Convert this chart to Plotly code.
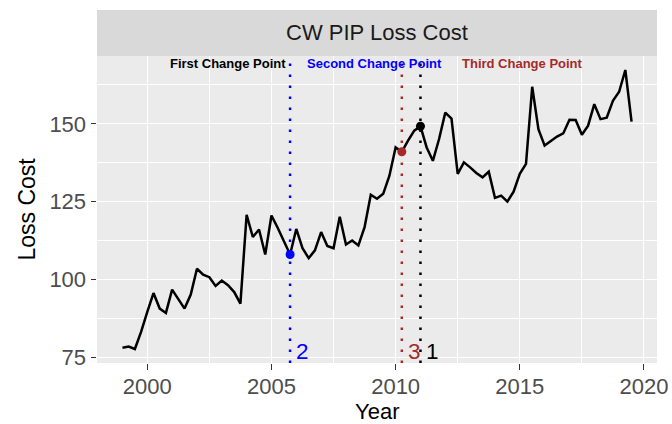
import plotly.graph_objects as go

# Quarterly loss cost, 1999.00 .. 2019.50
start_year = 1999.0
loss_cost = [
    78.0, 78.4, 77.6, 83.1, 89.5, 95.6, 90.6, 89.2, 96.7, 93.7,
    90.6, 95.1, 103.4, 101.5, 100.7, 97.9, 99.6, 98.1, 95.9, 92.2,
    120.7, 113.6, 116.0, 108.0, 120.5, 116.6, 112.5, 108.0, 116.2, 110.0,
    106.8, 109.3, 115.2, 110.7, 110.0, 120.1, 111.2, 112.5, 110.9, 116.8,
    127.2, 125.9, 127.5, 133.3, 142.4, 141.0, 144.6, 147.8, 149.2, 142.4,
    138.1, 145.1, 153.6, 151.7, 133.9, 137.6, 136.0, 134.2, 132.8, 134.6,
    126.2, 126.9, 125.0, 128.2, 133.9, 137.1, 161.9, 148.3, 143.0, 144.6,
    145.9, 146.9, 151.3, 151.2, 146.5, 149.4, 156.3, 151.5, 152.0, 157.4,
    160.3, 167.3, 150.7,
]
years = [start_year + 0.25 * i for i in range(len(loss_cost))]

# Change points: order number, year, colour
cp_numbers = ["1", "2", "3"]
cp_years = [2011.0, 2005.75, 2010.25]
cp_colors = ["black", "blue", "#A52A2A"]
cp_label_x = [2011.47, 2006.26, 2010.77]
cp_titles = ["First Change Point", "Second Change Point", "Third Change Point"]
cp_title_x = [2003.27, 2009.15, 2015.11]

x_ticks = [2000, 2005, 2010, 2015, 2020]
y_ticks = [75, 100, 125, 150]
x_range = [1997.975, 2020.525]
y_range = [73.1, 171.8]

FONT = "Liberation Sans, Arial, sans-serif"

fig = go.Figure()

for yr, col in zip(cp_years, cp_colors):
    fig.add_trace(go.Scatter(
        x=[yr, yr], y=y_range, mode="lines",
        line=dict(color=col, width=2.5, dash="2.5px,8.5px"),
        hoverinfo="skip", showlegend=False,
    ))

fig.add_trace(go.Scatter(
    x=years, y=loss_cost, mode="lines",
    line=dict(color="black", width=2.5),
    showlegend=False,
))

cp_vals = [loss_cost[years.index(y)] for y in cp_years]
fig.add_trace(go.Scatter(
    x=cp_years, y=cp_vals, mode="markers",
    marker=dict(color=cp_colors, size=9),
    showlegend=False,
))

for num, col, lx in zip(cp_numbers, cp_colors, cp_label_x):
    fig.add_annotation(x=lx, y=76.85, text=num, showarrow=False,
                       font=dict(family=FONT, size=22.5, color=col),
                       xanchor="center", yanchor="middle")

for t, col, tx in zip(cp_titles, cp_colors, cp_title_x):
    fig.add_annotation(x=tx, y=169.3, text="<b>" + t + "</b>", showarrow=False,
                       font=dict(family=FONT, size=13, color=col),
                       xanchor="center", yanchor="middle")

W, H = 672, 424
L, R, T, B = 97, 15, 10, 61
plot_h = H - T - B
panel_top_frac = 307 / plot_h

# strip
fig.add_shape(type="rect", xref="paper", yref="paper",
              x0=0, x1=1, y0=panel_top_frac, y1=1,
              fillcolor="#D9D9D9", line=dict(width=0), layer="below")
fig.add_annotation(xref="paper", yref="paper", x=0.5,
                   y=(panel_top_frac + 1) / 2, text="CW PIP Loss Cost",
                   showarrow=False, font=dict(family=FONT, size=22, color="#1A1A1A"),
                   xanchor="center", yanchor="middle")

# axis titles
fig.add_annotation(xref="paper", yref="paper", x=0, y=panel_top_frac / 2,
                   xshift=-70, text="Loss Cost", textangle=-90, showarrow=False,
                   font=dict(family=FONT, size=23, color="black"),
                   xanchor="center", yanchor="middle")
fig.add_annotation(xref="paper", yref="paper", x=0.5, y=0,
                   yshift=-48, text="Year", showarrow=False, borderpad=0,
                   font=dict(family=FONT, size=22, color="black"),
                   xanchor="center", yanchor="middle")

minor_x = [1997.5, 2002.5, 2007.5, 2012.5, 2017.5]
minor_y = [87.5, 112.5, 137.5, 162.5]

fig.update_layout(
    width=W, height=H,
    margin=dict(l=L, r=R, t=T, b=B),
    paper_bgcolor="white", plot_bgcolor="#EBEBEB",
    font=dict(family=FONT),
    xaxis=dict(
        range=x_range, tickvals=x_ticks, ticktext=[str(v) for v in x_ticks],
        showgrid=True, gridcolor="white", gridwidth=1.4,
        minor=dict(tickvals=minor_x, showgrid=True, gridcolor="white", gridwidth=0.7),
        ticks="outside", ticklen=5.5, tickcolor="#333333", tickwidth=1.3,
        tickfont=dict(family=FONT, size=22, color="#4D4D4D"),
        ticklabelstandoff=-2,
        zeroline=False, showline=False, automargin=False,
    ),
    yaxis=dict(
        domain=[0, panel_top_frac],
        range=y_range, tickvals=y_ticks, ticktext=[str(v) for v in y_ticks],
        showgrid=True, gridcolor="white", gridwidth=1.4,
        minor=dict(tickvals=minor_y, showgrid=True, gridcolor="white", gridwidth=0.7),
        ticks="outside", ticklen=5.5, tickcolor="#333333", tickwidth=1.3,
        tickfont=dict(family=FONT, size=22, color="#4D4D4D"),
        zeroline=False, showline=False, automargin=False,
    ),
)

fig.write_html(
    "out.html",
    config={"displayModeBar": False},
    post_script="document.body.style.margin='0';document.body.style.overflow='hidden';",
)
